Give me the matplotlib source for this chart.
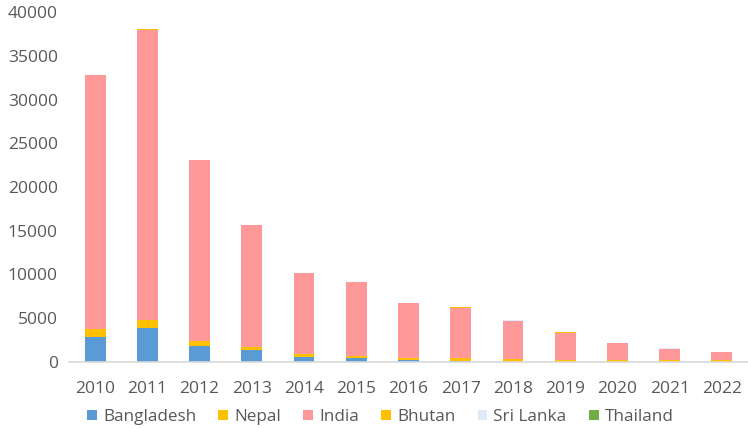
import matplotlib
matplotlib.use("Agg")
import matplotlib.pyplot as plt
import numpy as np
from matplotlib.patches import Patch

years = ["2010", "2011", "2012", "2013", "2014", "2015", "2016", "2017", "2018", "2019", "2020", "2021", "2022"]
bangladesh = [2900, 3920, 1870, 1370, 610, 460, 190, 150, 50, 20, 10, 10, 10]
nepal = [870, 880, 530, 340, 340, 260, 300, 310, 250, 250, 180, 260, 260]
india = [29000, 33150, 20650, 13900, 9200, 8450, 6220, 5760, 4430, 3100, 1990, 1260, 850]
bhutan = [40, 50, 20, 20, 20, 10, 10, 10, 10, 10, 10, 10, 10]
sri_lanka = [10, 10, 10, 10, 20, 10, 10, 10, 10, 10, 10, 10, 10]
thailand = [5, 5, 5, 5, 15, 5, 5, 5, 5, 5, 5, 5, 5]

series = [
    ("Bangladesh", bangladesh, "#5B9BD5"),
    ("Nepal", nepal, "#FFC000"),
    ("India", india, "#FF9999"),
    ("Bhutan", bhutan, "#FFC000"),
    ("Sri Lanka", sri_lanka, "#DEEBF7"),
    ("Thailand", thailand, "#70AD47"),
]

plt.rcParams['font.family'] = ['Open Sans', 'DejaVu Sans']

fig = plt.figure(figsize=(7.48, 4.28), dpi=100)
ax = fig.add_axes([69/748, 66/428, (748-69)/748, (362-12)/428])

x = np.arange(len(years))
bottom = np.zeros(len(years))
for name, vals, color in series:
    v = np.array(vals, dtype=float)
    ax.bar(x, v, width=0.4, bottom=bottom, color=color, label=name, linewidth=0)
    bottom += v

ax.set_xlim(-0.5, len(years) - 0.5)
ax.set_ylim(0, 40000)
ax.set_yticks(np.arange(0, 40001, 5000))
ax.set_xticks(x)
ax.set_xticklabels(years)
ax.tick_params(axis='both', length=0, labelsize=12.5, colors='#595959')
ax.tick_params(axis='x', pad=14)
ax.tick_params(axis='y', pad=8)
for s in ['top', 'right', 'left']:
    ax.spines[s].set_visible(False)
ax.spines['bottom'].set_color('#D9D9D9')
ax.spines['bottom'].set_linewidth(1.2)

handles = [Patch(facecolor=c, label=n) for n, _, c in series]
leg = fig.legend(handles=handles, loc='center left', bbox_to_anchor=(87/748, 1 - 417/428),
                 ncol=6, frameon=False, fontsize=12.3,
                 handlelength=0.58, handleheight=0.58,
                 handletextpad=0.35, columnspacing=1.3, borderaxespad=0, borderpad=0)
for t in leg.get_texts():
    t.set_color('#595959')

fig.savefig("out.png", dpi=100)
